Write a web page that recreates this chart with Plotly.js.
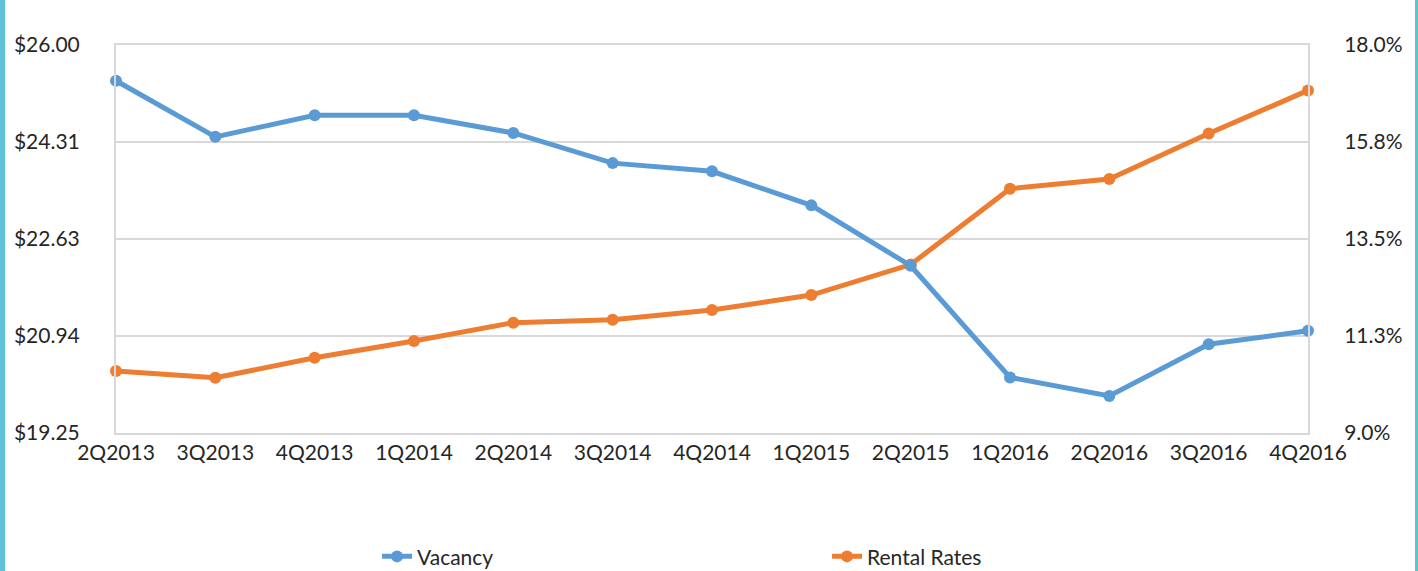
<!DOCTYPE html>
<html>
<head>
<meta charset="utf-8">
<script src="https://cdn.plot.ly/plotly-3.0.1.min.js"></script>
<style>
  html, body { margin: 0; padding: 0; background: #ffffff; }
  #wrap { position: relative; width: 1418px; height: 571px; overflow: hidden; }
  #chart { width: 1418px; height: 571px; }
  .edge { position: absolute; top: 0; height: 571px; background: #5ec4d5; }
</style>
</head>
<body>
<div id="wrap">
  <div id="chart"></div>
  <div class="edge" style="left:0; width:5px;"></div>
  <div class="edge" style="left:1415px; width:3px;"></div>
</div>
<script>
// Categories (quarters)
const quarters = ["2Q2013","3Q2013","4Q2013","1Q2014","2Q2014","3Q2014","4Q2014",
                  "1Q2015","2Q2015","1Q2016","2Q2016","3Q2016","4Q2016"];
// Vacancy (%), right axis
const vacancy = [17.17, 15.87, 16.37, 16.37, 15.96, 15.26, 15.07, 14.28, 12.88, 10.29, 9.86, 11.06, 11.37];
// Rental rates ($), left axis
const rentalRates = [20.33, 20.21, 20.56, 20.85, 21.17, 21.22, 21.39, 21.65, 22.18, 23.50, 23.67, 24.46, 25.21];
// Series names
const seriesNames = ["Vacancy", "Rental Rates"];

const FONT = "Lato, 'Open Sans', sans-serif";
const TXT = "#262626";
const GRID = "#d9d9d9";

const traces = [
  {
    x: quarters, y: vacancy, name: seriesNames[0], yaxis: "y2",
    type: "scatter", mode: "lines+markers",
    line: { color: "#5b9bd5", width: 5 },
    marker: { color: "#5b9bd5", size: 12, symbol: "circle" },
    cliponaxis: false
  },
  {
    x: quarters, y: rentalRates, name: seriesNames[1], yaxis: "y",
    type: "scatter", mode: "lines+markers",
    line: { color: "#ed7d31", width: 5 },
    marker: { color: "#ed7d31", size: 12, symbol: "circle" },
    cliponaxis: false
  }
];

const layout = {
  width: 1418, height: 571,
  margin: { l: 116, r: 110, t: 45, b: 138 },
  paper_bgcolor: "#ffffff", plot_bgcolor: "#ffffff",
  font: { family: FONT, size: 21, color: TXT },
  showlegend: true,
  legend: {
    orientation: "h",
    xref: "paper", x: 0.219, xanchor: "left",
    yref: "container", y: 0.025, yanchor: "middle",
    entrywidth: 405, entrywidthmode: "pixels",
    font: { family: FONT, size: 21, color: TXT },
    bgcolor: "rgba(0,0,0,0)",
    traceorder: "normal"
  },
  xaxis: {
    type: "category",
    range: [0, quarters.length - 1],
    showgrid: false, zeroline: false,
    showline: true, mirror: true, linecolor: GRID, linewidth: 2,
    ticks: "", ticklabelstandoff: 0,
    tickfont: { family: FONT, size: 21, color: TXT }
  },
  yaxis: {
    range: [19.25, 26.00],
    tick0: 19.25, dtick: 1.6875, tickmode: "linear",
    tickprefix: "$", tickformat: ".2f",
    showgrid: true, gridcolor: GRID, gridwidth: 2,
    zeroline: false,
    showline: true, linecolor: GRID, linewidth: 2,
    ticks: "", ticklabelstandoff: 30,
    tickfont: { family: FONT, size: 21, color: TXT }
  },
  yaxis2: {
    overlaying: "y", side: "right",
    range: [9.0, 18.0],
    tick0: 9, dtick: 2.25, tickmode: "linear",
    ticksuffix: "%", tickformat: ".1f",
    showgrid: false, zeroline: false,
    showline: true, linecolor: GRID, linewidth: 2,
    ticks: "", ticklabelstandoff: 30,
    tickfont: { family: FONT, size: 21, color: TXT }
  }
};

Plotly.newPlot("chart", traces, layout, { staticPlot: true, displayModeBar: false });
</script>
</body>
</html>
